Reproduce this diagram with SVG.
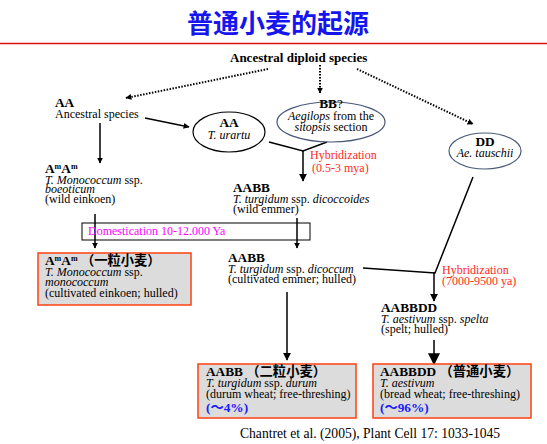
<svg xmlns="http://www.w3.org/2000/svg" width="547" height="444" viewBox="0 0 547 444">
<style>
text{font-family:'Liberation Serif','Times New Roman','Noto Sans CJK SC',serif;font-size:12px;fill:#000}
.h{font-weight:bold;font-size:13.3px}
.i{font-style:italic}
.red{fill:#ff2a1a}
.mag{fill:#ff00ff}
.blue{fill:#1a1aff;font-weight:bold;font-size:13.3px}
.sup{font-size:8px}
.box{fill:#dcdcdc;stroke:#ff4010;stroke-width:1.5}
.ell{fill:#fff;stroke:#4a5878;stroke-width:1.2}
.ln{fill:none;stroke:#000;stroke-width:1.5}
.dot{fill:none;stroke:#000;stroke-width:2;stroke-dasharray:1.5 1.5}
</style>
<defs>
<marker id="a" viewBox="0 0 10 10" refX="9" refY="5" markerWidth="6" markerHeight="6" markerUnits="userSpaceOnUse" orient="auto"><path d="M0,0L10,5L0,10z" fill="#000"/></marker>
<marker id="b" viewBox="0 0 10 10" refX="9" refY="5" markerWidth="8" markerHeight="8" markerUnits="userSpaceOnUse" orient="auto"><path d="M0,0L10,5L0,10z" fill="#000"/></marker>
<marker id="c" viewBox="0 0 10 10" refX="9" refY="5" markerWidth="12" markerHeight="12" markerUnits="userSpaceOnUse" orient="auto"><path d="M0,0L10,5L0,10z" fill="#000"/></marker>
</defs>

<g id="title">
<text x="278" y="33" text-anchor="middle" style="font-family:'Noto Sans CJK SC',sans-serif;font-size:26px;font-weight:bold;fill:#1515ee">普通小麦的起源</text>
<line x1="0" y1="43.5" x2="547" y2="43.5" stroke="#e01010" stroke-width="1.5"/>
</g>

<g id="connectors">
<line class="dot" x1="268" y1="69" x2="126" y2="98" marker-end="url(#a)"/>
<line class="dot" x1="320" y1="65" x2="320" y2="93" marker-end="url(#a)"/>
<line class="dot" x1="357" y1="69" x2="473" y2="124" marker-end="url(#a)"/>
<line class="ln" x1="145" y1="118" x2="189" y2="127" marker-end="url(#a)"/>
<line class="ln" x1="100" y1="123" x2="100" y2="163" marker-end="url(#a)"/>
<polyline class="ln" points="269,142 303,151 327,142" stroke-width="2"/>
<line class="ln" x1="303" y1="151" x2="303" y2="181" stroke-width="2.2" marker-end="url(#b)"/>
<line class="ln" x1="95" y1="214" x2="95" y2="248" marker-end="url(#a)"/>
<line class="ln" x1="297" y1="218" x2="297" y2="248" marker-end="url(#a)"/>
<polyline class="ln" points="363,268 435,273 473,177" stroke-width="2"/>
<line class="ln" x1="434" y1="272" x2="434" y2="301" stroke-width="2.2" marker-end="url(#b)"/>
<line class="ln" x1="287" y1="292" x2="287" y2="360" stroke-width="2.5" marker-end="url(#b)"/>
<line class="ln" x1="434" y1="340" x2="434" y2="364" stroke-width="4" marker-end="url(#c)"/>
</g>

<g id="ancestral">
<text x="230" y="62" style="font-weight:bold;font-size:13px">Ancestral diploid species</text>
</g>

<g id="AA-ancestral">
<text x="55" y="107" class="h">AA</text>
<text x="55" y="118">Ancestral species</text>
</g>

<g id="urartu">
<ellipse cx="229" cy="132" rx="36" ry="20" fill="#fff" stroke="#000" stroke-width="1.2"/>
<text x="229" y="127" class="h" text-anchor="middle">AA</text>
<text x="229" y="139" class="i" text-anchor="middle">T. urartu</text>
</g>

<g id="BB">
<ellipse class="ell" cx="331" cy="122" rx="54" ry="20"/>
<text x="331" y="108" text-anchor="middle"><tspan class="h">BB</tspan><tspan style="font-size:13px">?</tspan></text>
<text x="331" y="120" text-anchor="middle"><tspan class="i">Aegilops</tspan> from the</text>
<text x="331" y="131" text-anchor="middle"><tspan class="i">sitopsis</tspan> section</text>
</g>

<g id="DD">
<ellipse class="ell" cx="485" cy="151" rx="36" ry="18"/>
<text x="485" y="146" class="h" text-anchor="middle">DD</text>
<text x="485" y="157" class="i" text-anchor="middle">Ae. tauschii</text>
</g>

<g id="hyb1">
<text x="310" y="159" class="red">Hybridization</text>
<text x="312" y="172" class="red">(0.5-3 mya)</text>
</g>

<g id="boeoticum">
<text x="45" y="173" class="h">A<tspan class="sup" dy="-4">m</tspan><tspan dy="4">A</tspan><tspan class="sup" dy="-4">m</tspan></text>
<text x="45" y="184"><tspan class="i">T. Monococcum</tspan> ssp.</text>
<text x="45" y="193" class="i">boeoticum</text>
<text x="45" y="203">(wild einkoen)</text>
</g>

<g id="dicoccoides">
<text x="233" y="192" class="h">AABB</text>
<text x="233" y="203"><tspan class="i">T. turgidum</tspan> ssp. <tspan class="i">dicoccoides</tspan></text>
<text x="233" y="213">(wild emmer)</text>
</g>

<g id="domestication">
<rect x="82" y="223" width="228" height="17" fill="none" stroke="#000" stroke-width="1"/>
<text x="88" y="235" class="mag">Domestication 10-12.000 Ya</text>
</g>

<g id="monococcum">
<rect class="box" x="38" y="253" width="153" height="52"/>
<text x="45" y="265" class="h">A<tspan class="sup" dy="-4">m</tspan><tspan dy="4">A</tspan><tspan class="sup" dy="-4">m</tspan><tspan dy="4"> （一粒小麦）</tspan></text>
<text x="45" y="276"><tspan class="i">T. Monococcum</tspan> ssp.</text>
<text x="45" y="286" class="i">monococcum</text>
<text x="45" y="297">(cultivated einkoen; hulled)</text>
</g>

<g id="dicoccum">
<text x="228" y="262" class="h">AABB</text>
<text x="228" y="273"><tspan class="i">T. turgidum</tspan> ssp. <tspan class="i">dicoccum</tspan></text>
<text x="228" y="283">(cultivated emmer; hulled)</text>
</g>

<g id="hyb2">
<text x="442" y="274" class="red">Hybridization</text>
<text x="442" y="285" class="red">(7000-9500 ya)</text>
</g>

<g id="spelta">
<text x="381" y="312" class="h">AABBDD</text>
<text x="381" y="323"><tspan class="i">T. aestivum</tspan> ssp. <tspan class="i">spelta</tspan></text>
<text x="381" y="333">(spelt; hulled)</text>
</g>

<g id="durum">
<rect class="box" x="198" y="364" width="158" height="54"/>
<text x="206" y="376" class="h">AABB （二粒小麦）</text>
<text x="206" y="387"><tspan class="i">T. turgidum</tspan> ssp. <tspan class="i">durum</tspan></text>
<text x="206" y="398">(durum wheat; free-threshing)</text>
<text x="206" y="412" class="blue">(～4%)</text>
</g>

<g id="aestivum">
<rect class="box" x="373" y="364" width="158" height="54"/>
<text x="380" y="376" class="h">AABBDD （普通小麦）</text>
<text x="380" y="387" class="i">T. aestivum</text>
<text x="380" y="398">(bread wheat; free-threshing)</text>
<text x="380" y="412" class="blue">(～96%)</text>
</g>

<g id="citation">
<text x="240" y="438" style="font-size:13.6px">Chantret et al. (2005), Plant Cell 17: 1033-1045</text>
</g>
</svg>
